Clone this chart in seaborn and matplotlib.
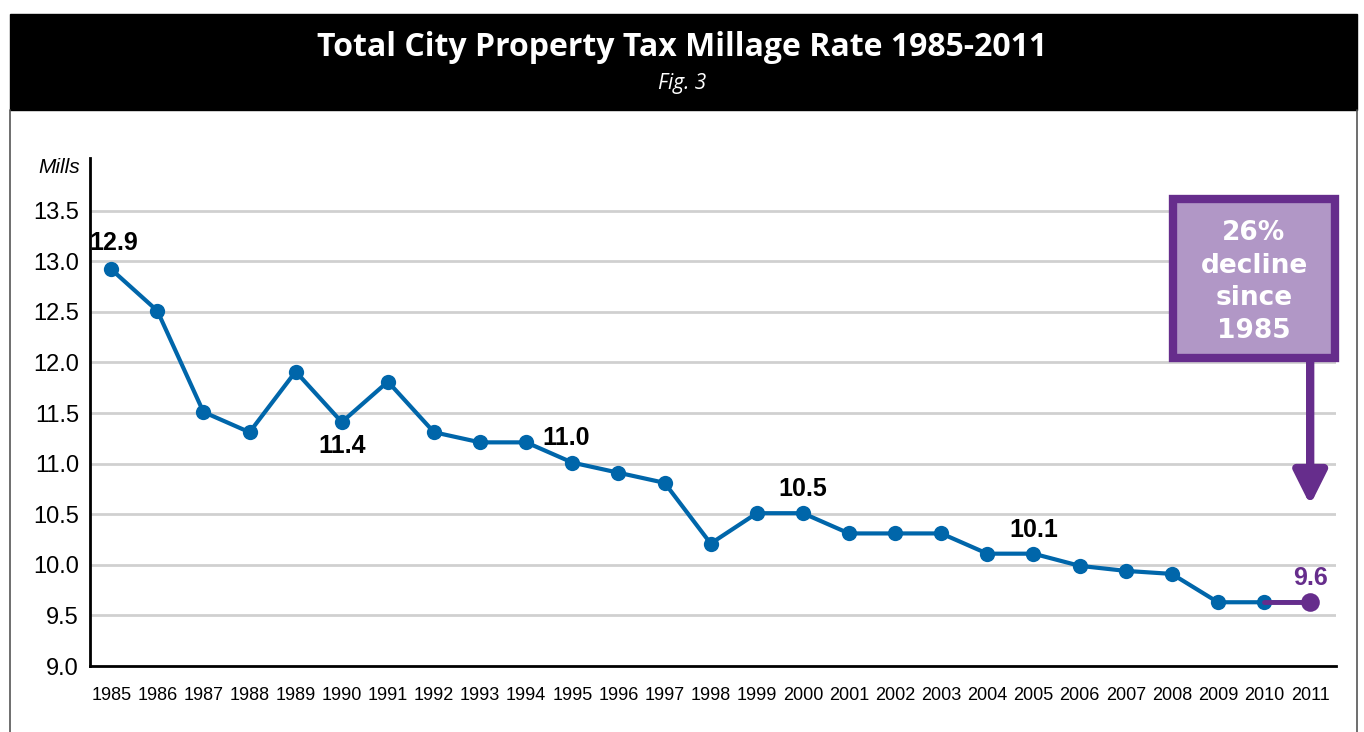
import matplotlib
matplotlib.use("Agg")
import matplotlib.pyplot as plt
import matplotlib.patches as mpatches
import seaborn as sns
import pandas as pd

# data
years = list(range(1985, 2012))
rates = [12.92, 12.51, 11.51, 11.31, 11.91, 11.41, 11.81, 11.31, 11.21, 11.21,
         11.01, 10.91, 10.81, 10.21, 10.51, 10.51, 10.31, 10.31, 10.31, 10.11,
         10.11, 9.99, 9.94, 9.91, 9.63, 9.63, 9.63]
label_years = [1985, 1990, 1994, 2000, 2005]
label_texts = ["12.9", "11.4", "11.0", "10.5", "10.1"]
y_ticks = [9.0, 9.5, 10.0, 10.5, 11.0, 11.5, 12.0, 12.5, 13.0, 13.5]

df = pd.DataFrame({"year": years, "rate": rates})

sns.set_style("white")
plt.rcParams["font.family"] = ["Liberation Sans", "DejaVu Sans"]
plt.rcParams["text.color"] = "black"
plt.rcParams["xtick.color"] = "black"
plt.rcParams["ytick.color"] = "black"

BLUE = "#0066aa"
PURPLE = "#662d8c"
LILAC = "#b197c6"

fig = plt.figure(figsize=(13.64, 7.32), dpi=100)

# black header band and frame
fig.patches.append(mpatches.Rectangle((10/1364, 1 - 110/732), 1347/1364, 96/732,
                                      transform=fig.transFigure, color="black", zorder=0))
fig.add_artist(plt.Line2D([10/1364, 10/1364], [0, 1 - 110/732], color="#555555", lw=1.2))
fig.add_artist(plt.Line2D([1357/1364, 1357/1364], [0, 1 - 110/732], color="#555555", lw=1.2))
fig.text(0.5, 1 - 47/732, "Total City Property Tax Millage Rate 1985-2011", color="white",
         ha="center", va="center", fontsize=23, fontweight="bold", family=["Open Sans", "DejaVu Sans"])
fig.text(0.5, 1 - 84/732, "Fig. 3", color="white", ha="center", va="center",
         fontsize=15, style="italic", family=["Open Sans", "DejaVu Sans"])

ax = fig.add_axes([90/1364, 66/732, 1246/1364, 508/732])

sns.lineplot(data=df, x="year", y="rate", ax=ax, color=BLUE, lw=3, marker="o",
             markersize=11, markeredgewidth=0, zorder=3)
sns.lineplot(data=df.tail(2), x="year", y="rate", ax=ax, color=PURPLE, lw=3.5, zorder=4)
sns.scatterplot(data=df.tail(1), x="year", y="rate", ax=ax, color=PURPLE, s=180,
                linewidth=0, zorder=5)

ax.set_xlim(1984.54, 2011.56)
ax.set_ylim(9.0, 14.02)
ax.set_yticks(y_ticks)
ax.set_yticklabels([f"{v:.1f}" for v in y_ticks], fontsize=17)
ax.set_xticks(years)
ax.set_xticklabels([str(y) for y in years], fontsize=13)
ax.tick_params(length=0, pad=8)
ax.tick_params(axis="x", pad=15)
for v in y_ticks[1:]:
    ax.axhline(v, color="#d0d0d0", lw=2, zorder=1)
ax.set_xlabel("")
ax.set_ylabel("")
for s in ["top", "right"]:
    ax.spines[s].set_visible(False)
for s in ["left", "bottom"]:
    ax.spines[s].set_linewidth(2)
    ax.spines[s].set_color("black")

ax.text(-0.008, 0.982, "Mills", transform=ax.transAxes, ha="right", va="center",
        fontsize=15, style="italic")

# value labels
offsets = {1985: (3, 26), 1990: (0, -24), 1994: (40, 4), 2000: (0, 24), 2005: (0, 24)}
for yr, txt in zip(label_years, label_texts):
    val = rates[years.index(yr)]
    dx, dy = offsets[yr]
    ax.annotate(txt, (yr, val), xytext=(dx, dy), textcoords="offset pixels",
                ha="center", va="center", fontsize=18, fontweight="bold", color="black")
ax.annotate("9.6", (2011, rates[-1]), xytext=(0, 24), textcoords="offset pixels",
            ha="center", va="center", fontsize=18, fontweight="bold", color=PURPLE)

# callout box with arrow
box = mpatches.Rectangle((1173/1364, 1 - 358/732), 162/1364, 159/732, transform=fig.transFigure,
                         facecolor=LILAC, edgecolor=PURPLE, lw=6, zorder=6)
fig.patches.append(box)
fig.text(1254/1364, 1 - 282/732, "26%\ndecline\nsince\n1985", color="white", ha="center",
         va="center", fontsize=19, fontweight="bold", linespacing=1.32,
         family=["DejaVu Sans"], zorder=7)
ax.annotate("", xy=(2011, 10.59), xytext=(2011, 12.98),
            arrowprops=dict(arrowstyle="-|>,head_length=2.0,head_width=1.0", color=PURPLE,
                            lw=6, shrinkA=0, shrinkB=0), zorder=6)

fig.savefig("out.png", dpi=100)
